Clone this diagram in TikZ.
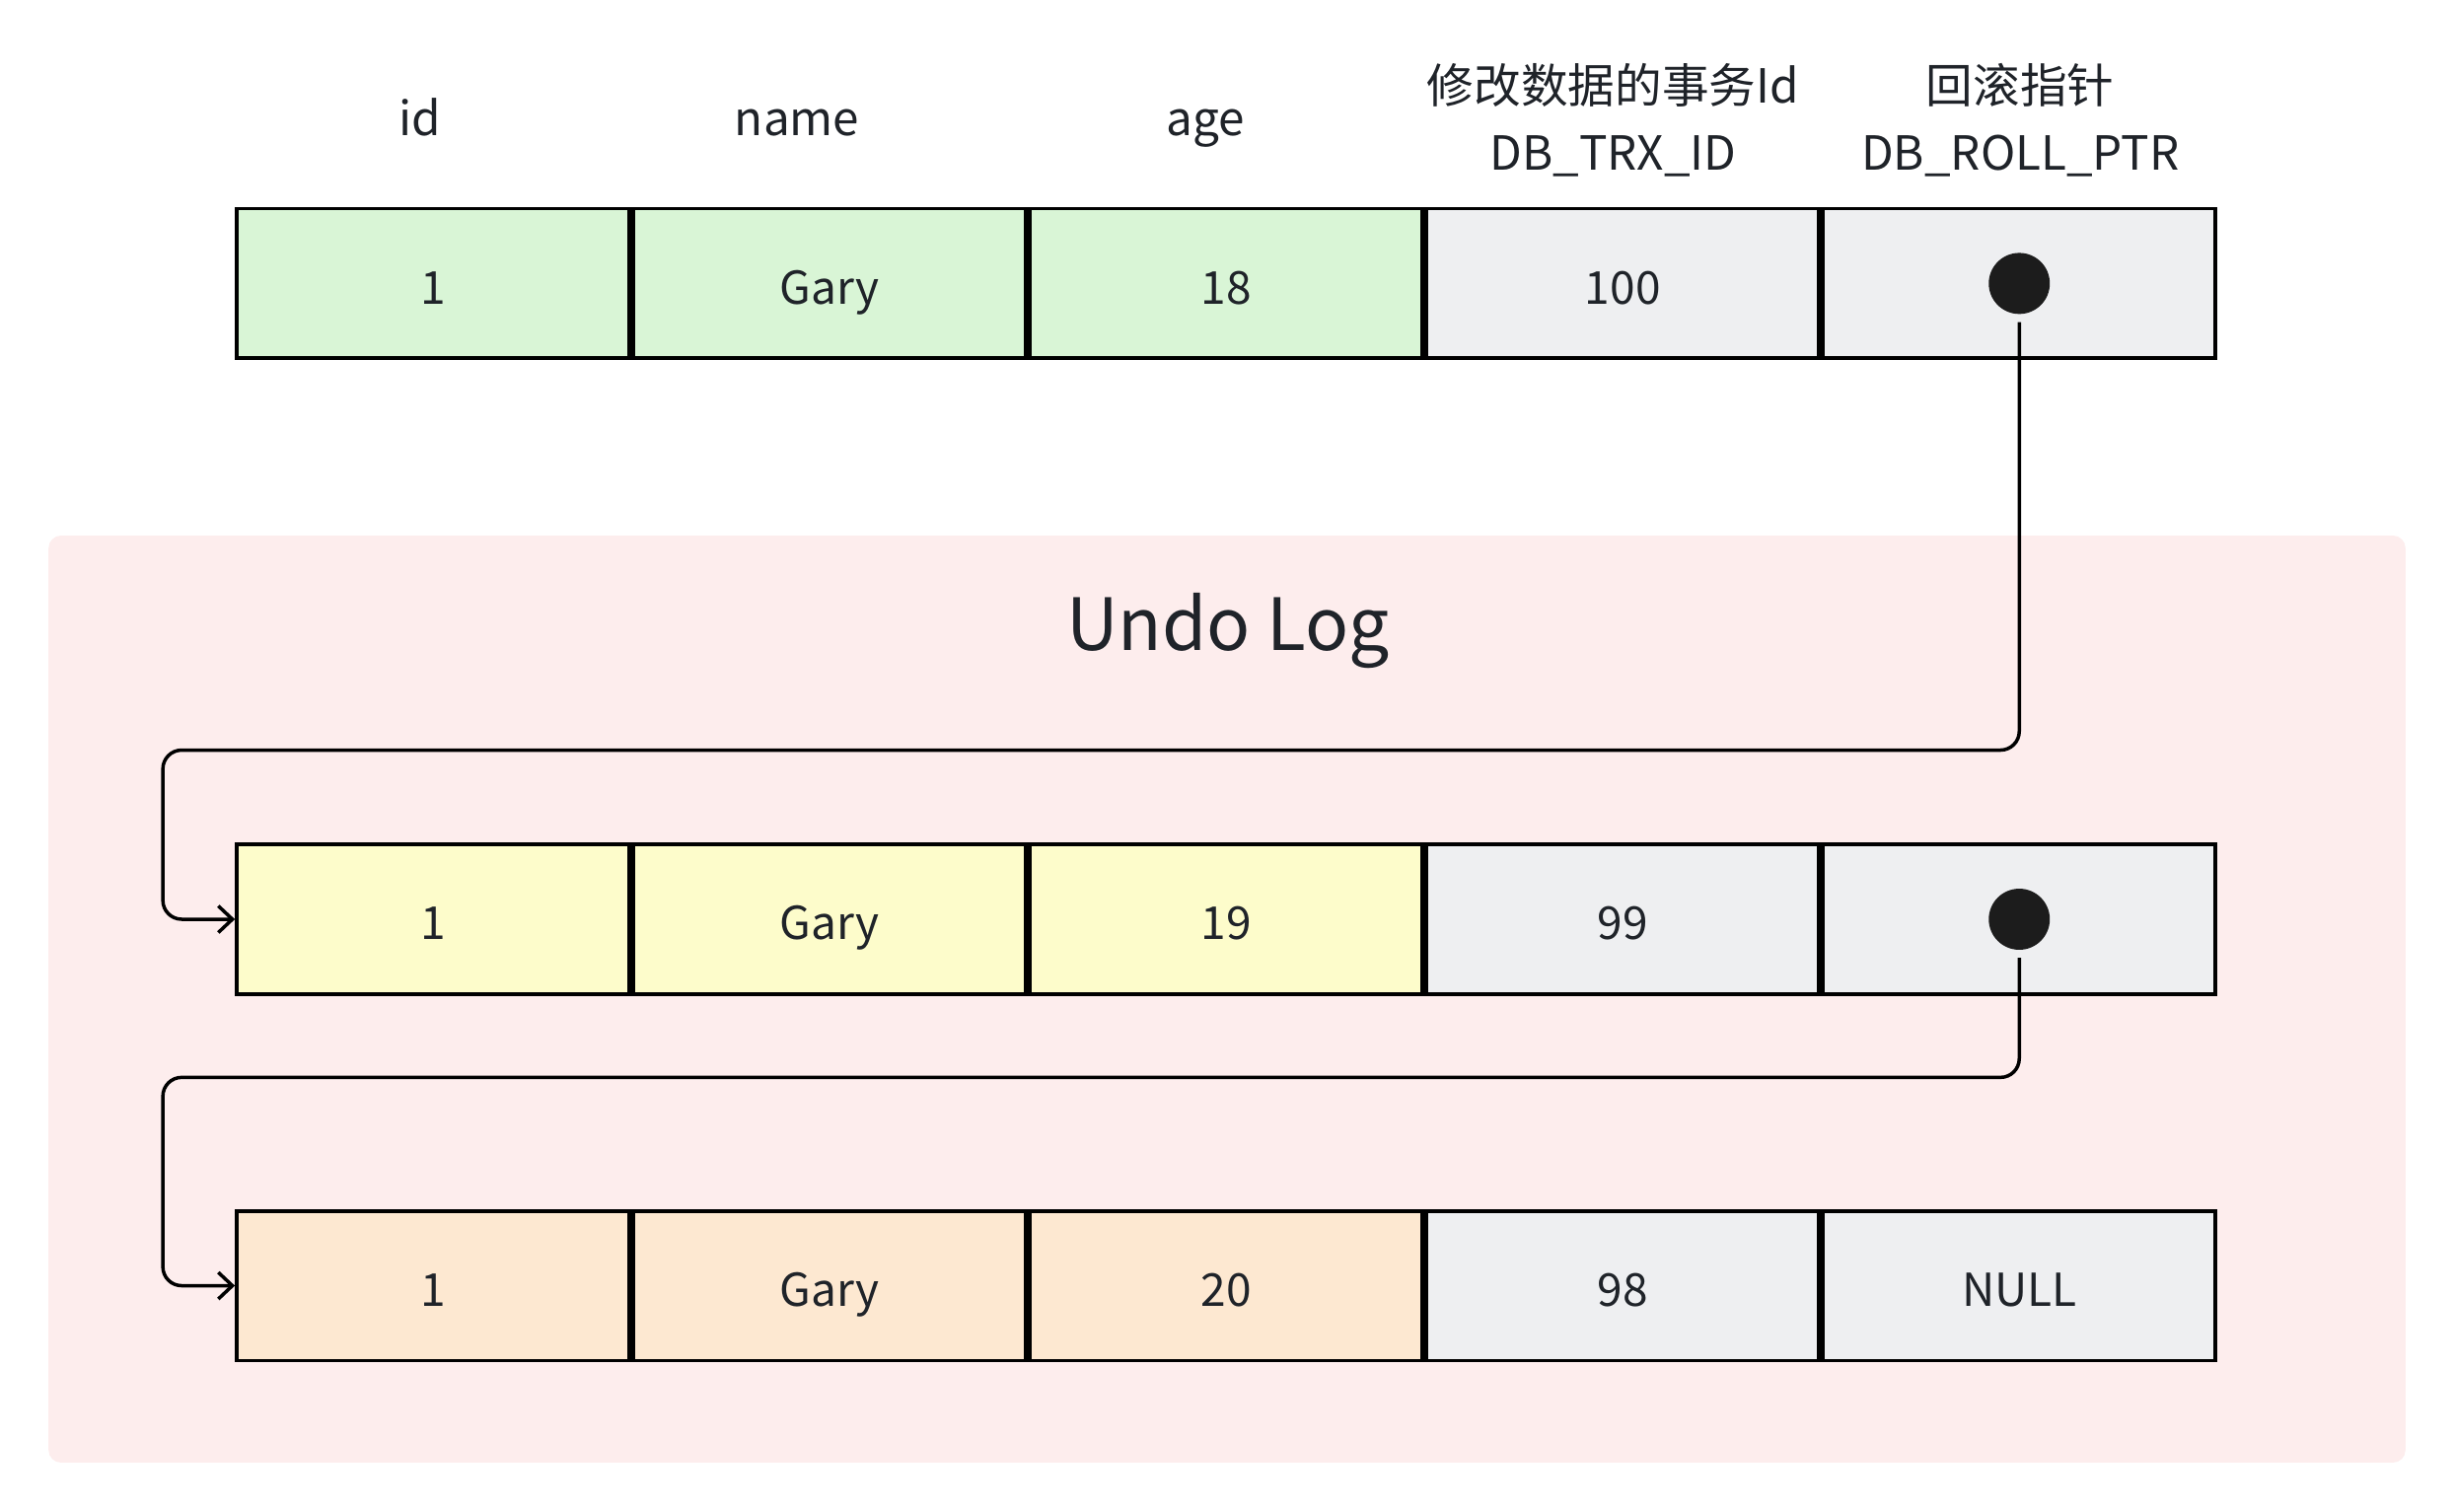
\documentclass[tikz,border=0pt]{standalone}
\usepackage{fontspec}
\setmainfont{Noto Sans CJK SC}
\usepackage{tikz}
\usetikzlibrary{positioning, calc, arrows.meta}
\definecolor{txt}{HTML}{1F2329}
\definecolor{cgreen}{HTML}{D9F5D6}
\definecolor{cyellow}{HTML}{FDFCCB}
\definecolor{corange}{HTML}{FDE8D1}
\definecolor{cgrey}{HTML}{EEEFF1}
\definecolor{cpink}{HTML}{FDEDED}
\definecolor{dot}{HTML}{1C1C1C}

\begin{document}
\begin{tikzpicture}[x=1pt,y=-1pt,>={Straight Barb[length=9pt,width=17pt]},
  cell/.style={draw,line width=2.4pt,minimum width=250.8pt,minimum height=95.6pt,inner sep=0pt,
    text height=26pt,text depth=0pt,text=txt,font=\fontsize{29}{45}\selectfont},
  head/.style={anchor=base,text=txt,font=\fontsize{30}{45}\selectfont},
  ptr/.style={circle,fill=dot,minimum size=39pt,inner sep=0pt},
  link/.style={->,line width=2.2pt,rounded corners=12pt}]
\useasboundingbox (0,0) rectangle (1567,965);
\fill[cpink,rounded corners=8pt] (31,342) rectangle (1536,934);
\node[text=txt,font=\fontsize{46}{50}\selectfont] (title) at (784,403) {Undo Log};
% current row
\draw node [cell,fill=cgreen,anchor=north west] (cur1) at (150,132) {1};
\draw node [cell,fill=cgreen] [right=0pt of cur1] (cur2) {Gary};
\draw node [cell,fill=cgreen] [right=0pt of cur2] (cur3) {18};
\draw node [cell,fill=cgrey]  [right=0pt of cur3] (cur4) {100};
\draw node [cell,fill=cgrey]  [right=0pt of cur4] (cur5) {};
\node [ptr] (curptr) at (cur5.center) {};
% headers
\node [head] (hid)   at (268,86.5) {id};
\node [head] (hname) at (509,86.5) {name};
\node [head] (hage)  at (770,86.5) {age};
\node [head] (htrx)  at (1030,66)  {修改数据的事务Id};
\node [head] (htrxsub) at ([yshift=-42.7pt]htrx.base) {DB\_TRX\_ID};
\node [head] (hroll) at (1290,66)  {回滚指针};
\node [head] (hrollsub) at ([yshift=-42.7pt]hroll.base) {DB\_ROLL\_PTR};
% undo log rows
\draw node [cell,fill=cyellow,anchor=north west] (ua1) at (150,538) {1};
\draw node [cell,fill=cyellow] [right=0pt of ua1] (ua2) {Gary};
\draw node [cell,fill=cyellow] [right=0pt of ua2] (ua3) {19};
\draw node [cell,fill=cgrey]   [right=0pt of ua3] (ua4) {99};
\draw node [cell,fill=cgrey]   [right=0pt of ua4] (ua5) {};
\node [ptr] (uaptr) at (ua5.center) {};
\draw node [cell,fill=corange,anchor=north west] (ub1) at (150,772) {1};
\draw node [cell,fill=corange] [right=0pt of ub1] (ub2) {Gary};
\draw node [cell,fill=corange] [right=0pt of ub2] (ub3) {20};
\draw node [cell,fill=cgrey]   [right=0pt of ub3] (ub4) {98};
\draw node [cell,fill=cgrey]   [right=0pt of ub4] (ub5) {NULL};
% rollback pointers
\coordinate (bendA) at (104,479);
\coordinate (bendB) at (104,688);
\draw [link] ([yshift=-5pt]curptr.south) |- (bendA) |- (ua1.west);
\draw [link] ([yshift=-5pt]uaptr.south) |- (bendB) |- (ub1.west);
\end{tikzpicture}
\end{document}
